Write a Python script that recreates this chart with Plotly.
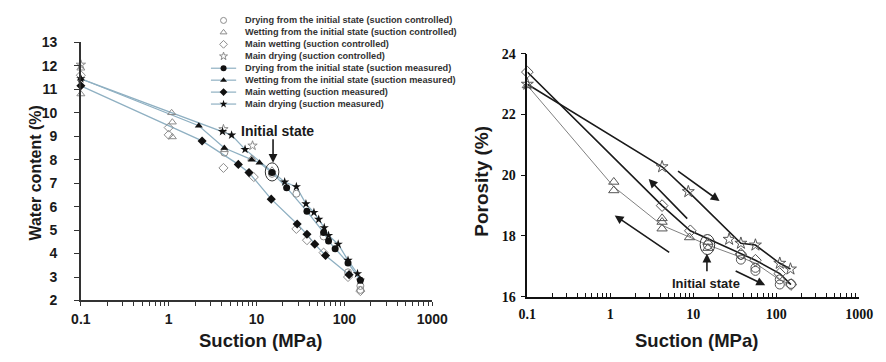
import plotly.graph_objects as go

W, H = 886, 362

# ---------------- Left panel: water content (%) vs suction (MPa) ----------------
# suction measured (filled markers, joined)
dry_init_meas_s = [15, 22, 37.5, 58, 66, 78.5, 110, 152]
dry_init_meas_w = [7.45, 6.81, 5.8, 4.9, 4.53, 4.2, 3.6, 2.86]
wet_init_meas_s = [15, 10.8, 8.8, 4.3, 2.2, 0.1]
wet_init_meas_w = [7.45, 7.87, 8.0, 8.5, 9.45, 11.45]
main_wet_meas_s = [113, 61, 46, 37.5, 29, 14.7, 8.2, 6.2, 2.4, 0.1]
main_wet_meas_w = [3.1, 3.92, 4.4, 4.82, 5.26, 6.32, 7.45, 7.8, 8.8, 11.15]
main_dry_meas_s = [0.1, 4.1, 5.2, 7.4, 20.9, 28.4, 36.5, 45, 51, 59, 66, 85, 110, 141, 152]
main_dry_meas_w = [11.45, 9.2, 9.05, 8.44, 7.05, 6.85, 6.12, 5.75, 5.46, 5.1, 4.77, 4.4, 3.71, 3.14, 2.86]
# suction controlled (open markers)
dry_init_ctrl_s = [15, 4.3, 28.4, 58, 110, 152, 152]
dry_init_ctrl_w = [7.4, 8.3, 6.55, 4.73, 3.2, 2.62, 2.45]
wet_init_ctrl_s = [0.1, 0.1, 1.08, 1.1, 1.1, 4.3, 8.8, 15]
wet_init_ctrl_w = [11.9, 10.8, 10.0, 9.6, 8.97, 8.42, 8.05, 7.55]
main_wet_ctrl_s = [0.1, 1.0, 1.0, 4.2, 9.3, 28.4, 37.5, 58, 110, 152]
main_wet_ctrl_w = [11.6, 9.37, 9.06, 7.65, 7.26, 5.05, 4.57, 4.04, 3.0, 2.4]
main_dry_ctrl_s = [0.1, 4.2, 9.0]
main_dry_ctrl_w = [12.05, 9.3, 8.6]

legend_labels = [
    "Drying from the initial state (suction controlled)",
    "Wetting from the initial state (suction controlled)",
    "Main wetting (suction controlled)",
    "Main drying (suction controlled)",
    "Drying from the initial state (suction measured)",
    "Wetting from the initial state (suction measured)",
    "Main wetting (suction measured)",
    "Main drying (suction measured)",
]

# ---------------- Right panel: porosity (%) vs suction (MPa) ----------------
por_main_wet_s = [0.1, 4.2, 9.2, 37.4, 56, 110, 150]
por_main_wet_p = [23.4, 19.0, 18.17, 17.4, 17.2, 16.76, 16.4]
por_wet_init_s = [15, 15, 9.0, 4.2, 4.2, 4.2, 1.1, 1.1, 0.1]
por_wet_init_p = [17.8, 17.6, 17.95, 18.58, 18.46, 18.24, 19.78, 19.5, 22.96]
por_dry_init_s = [15, 37.4, 37.4, 56, 56, 110, 110, 150]
por_dry_init_p = [17.7, 17.38, 17.22, 16.95, 16.85, 16.57, 16.4, 16.42]
por_main_dry_s = [0.1, 4.2, 8.7, 37.4, 56, 110, 148]
por_main_dry_p = [23.0, 20.28, 19.46, 17.76, 17.7, 17.1, 16.91]
por_main_dry_extra_s = [27]
por_main_dry_extra_p = [17.89]
por_init_path_s = [0.1, 1.1, 4.2, 9.0, 15, 37.4, 56, 110, 150]
por_init_path_p = [22.96, 19.62, 18.35, 17.95, 17.7, 17.3, 17.1, 16.55, 16.4]

x_ticks = [0.1, 1, 10, 100, 1000]
x_ticktext = ["0.1", "1", "10", "100", "1000"]
minor_vals = [m * 10 ** e for e in range(-1, 3) for m in range(2, 10)]
all_tickvals = x_ticks + minor_vals
all_ticktext = x_ticktext + [""] * len(minor_vals)

LINE_BLUE = "#8fb0c2"
OPEN_GRAY = "#8c8c8c"
SANS = "Liberation Sans, Arial, sans-serif"
SERIF = "Liberation Serif, Times New Roman, serif"

fig = go.Figure()

# left: measured (filled + line)
for s, w in [
    (dry_init_meas_s, dry_init_meas_w),
    (wet_init_meas_s, wet_init_meas_w),
    (main_wet_meas_s, main_wet_meas_w),
    (main_dry_meas_s, main_dry_meas_w),
]:
    fig.add_trace(go.Scatter(x=s, y=w, mode="lines", line=dict(color=LINE_BLUE, width=1.3),
                             xaxis="x", yaxis="y", showlegend=False, cliponaxis=False))
for s, w, sym in [
    (dry_init_ctrl_s, dry_init_ctrl_w, "circle-open"),
    (wet_init_ctrl_s, wet_init_ctrl_w, "triangle-up-open"),
    (main_wet_ctrl_s, main_wet_ctrl_w, "diamond-open"),
    (main_dry_ctrl_s, main_dry_ctrl_w, "star-open"),
]:
    fig.add_trace(go.Scatter(x=s, y=w, mode="markers",
                             marker=dict(symbol=sym, size=7, color=OPEN_GRAY, line=dict(width=1, color=OPEN_GRAY)),
                             xaxis="x", yaxis="y", showlegend=False, cliponaxis=False))
for s, w, sym in [
    (dry_init_meas_s, dry_init_meas_w, "circle"),
    (wet_init_meas_s, wet_init_meas_w, "triangle-up"),
    (main_wet_meas_s, main_wet_meas_w, "diamond"),
    (main_dry_meas_s, main_dry_meas_w, "star"),
]:
    fig.add_trace(go.Scatter(x=s, y=w, mode="markers",
                             marker=dict(symbol=sym, size=7, color="#111111"),
                             xaxis="x", yaxis="y", showlegend=False, cliponaxis=False))

# right panel lines
fig.add_trace(go.Scatter(x=por_init_path_s, y=por_init_path_p, mode="lines",
                         line=dict(color="#808080", width=1), xaxis="x2", yaxis="y2",
                         showlegend=False, cliponaxis=False))
fig.add_trace(go.Scatter(x=por_main_wet_s, y=por_main_wet_p, mode="lines",
                         line=dict(color="#1a1a1a", width=1.6), xaxis="x2", yaxis="y2",
                         showlegend=False, cliponaxis=False))
fig.add_trace(go.Scatter(x=por_main_dry_s, y=por_main_dry_p, mode="lines",
                         line=dict(color="#1a1a1a", width=1.6), xaxis="x2", yaxis="y2",
                         showlegend=False, cliponaxis=False))
for s, p, sym in [
    (por_main_wet_s, por_main_wet_p, "diamond-open"),
    (por_wet_init_s, por_wet_init_p, "triangle-up-open"),
    (por_dry_init_s, por_dry_init_p, "circle-open"),
    (por_main_dry_s, por_main_dry_p, "star-open"),
    (por_main_dry_extra_s, por_main_dry_extra_p, "star-open"),
]:
    fig.add_trace(go.Scatter(x=s, y=p, mode="markers",
                             marker=dict(symbol=sym, size=9, color="#555555", line=dict(width=1, color="#555555")),
                             xaxis="x2", yaxis="y2", showlegend=False, cliponaxis=False))

# legend (pixel overlay axes)
legend_rows = [13, 25.5, 38, 50.5, 63, 75.5, 88, 100.5]
legend_syms = ["circle-open", "triangle-up-open", "diamond-open", "star-open",
               "circle", "triangle-up", "diamond", "star"]
annotations = []
for i, (lab, sym, ry) in enumerate(zip(legend_labels, legend_syms, legend_rows)):
    if i >= 4:
        fig.add_trace(go.Scatter(x=[207, 233], y=[ry, ry], mode="lines",
                                 line=dict(color=LINE_BLUE, width=1.2),
                                 xaxis="x3", yaxis="y3", showlegend=False))
        mk = dict(symbol=sym, size=6, color="#111111")
    else:
        mk = dict(symbol=sym, size=6, color=OPEN_GRAY, line=dict(width=1, color=OPEN_GRAY))
    fig.add_trace(go.Scatter(x=[220], y=[ry], mode="markers", marker=mk,
                             xaxis="x3", yaxis="y3", showlegend=False))
    annotations.append(dict(x=240, y=ry, xref="x3", yref="y3", text=lab, showarrow=False,
                            xanchor="left", yanchor="middle",
                            font=dict(family=SANS, size=9.2, color="#333333", weight="bold")))

# axis titles
def title_ann(x, y, text, angle=0, size=18.5):
    return dict(x=x / W, y=1 - y / H, xref="paper", yref="paper", text=text, showarrow=False,
                textangle=angle, xanchor="center", yanchor="middle",
                font=dict(family=SANS, size=size, color="#1a1a1a", weight="bold"))

annotations += [
    title_ann(258, 348, "Suction (MPa)"),
    title_ann(26, 173, "Water content (%)", -90, 16),
    title_ann(707, 348, "Suction (MPa)"),
    title_ann(485, 181, "Porosity (%)", -90, 19),
]

# "Initial state" labels and arrows
annotations.append(dict(x=276 / W, y=1 - 129 / H, xref="paper", yref="paper", text="Initial state",
                        showarrow=False, xanchor="center", yanchor="middle",
                        font=dict(family=SANS, size=14, color="#1a1a1a", weight="bold")))
annotations.append(dict(x=717 / W, y=1 - 288 / H, xref="paper", yref="paper", text="Initial state",
                        showarrow=False, xanchor="center", yanchor="middle",
                        font=dict(family=SANS, size=13, color="#1a1a1a", weight="bold")))
arrows = [  # (head_x, head_y, tail_x, tail_y) in pixels
    (271, 162, 271, 137),
    (718, 257, 718, 276),
    (658, 179, 698, 220),
    (731, 202, 688, 171),
    (623, 217, 679, 255),
    (778, 290, 747, 275),
]
for hx, hy, tx, ty in arrows:
    annotations.append(dict(x=hx / W, y=1 - hy / H, xref="paper", yref="paper", ax=tx - hx, ay=ty - hy,
                            text="", showarrow=True, arrowhead=2, arrowsize=1.1, arrowwidth=1.6,
                            arrowcolor="#1a1a1a"))

shapes = [
    dict(type="circle", xref="paper", yref="paper", x0=263 / W, x1=277 / W,
         y0=1 - 181 / H, y1=1 - 162 / H, line=dict(color="#333333", width=1)),
    dict(type="circle", xref="paper", yref="paper", x0=711 / W, x1=726 / W,
         y0=1 - 258 / H, y1=1 - 237 / H, line=dict(color="#333333", width=1)),
]

common_x = dict(type="log", range=[-1, 3], tickmode="array", tickvals=all_tickvals, ticktext=all_ticktext,
                showgrid=False, zeroline=False, showline=True, linewidth=1.5, ticklen=4, tickwidth=1.2)

fig.update_layout(
    width=W, height=H, margin=dict(l=0, r=0, t=0, b=0), autosize=False,
    paper_bgcolor="white", plot_bgcolor="rgba(0,0,0,0)",
    xaxis=dict(**common_x, domain=[73 / W, 435 / W], anchor="y", linecolor="#333333",
               ticks="outside", tickcolor="#333333",
               tickfont=dict(family=SANS, size=14, color="#1a1a1a", weight="bold"), ticklabelstandoff=1),
    yaxis=dict(range=[2, 13], dtick=1, domain=[1 - 306 / H, 1 - 36 / H], anchor="x",
               showgrid=False, zeroline=False, showline=True, linewidth=1.5, linecolor="#333333",
               ticks="outside", ticklen=5, tickcolor="#333333", tickwidth=1.2,
               tickfont=dict(family=SANS, size=14, color="#1a1a1a", weight="bold"), ticklabelstandoff=14),
    xaxis2=dict(**common_x, domain=[533 / W, 875 / W], anchor="y2", linecolor="#111111",
                ticks="inside", tickcolor="#111111",
                tickfont=dict(family=SERIF, size=14, color="#111111", weight="bold"), ticklabelstandoff=4),
    yaxis2=dict(range=[16, 24], dtick=2, domain=[1 - 302 / H, 1 - 48 / H], anchor="x2",
                showgrid=False, zeroline=False, showline=True, linewidth=1.5, linecolor="#111111",
                ticks="outside", ticklen=5, tickcolor="#111111", tickwidth=1.2,
                tickfont=dict(family=SERIF, size=14, color="#111111", weight="bold"), ticklabelstandoff=2),
    xaxis3=dict(domain=[0, 1], range=[0, W], visible=False, anchor="y3", fixedrange=True),
    yaxis3=dict(domain=[0, 1], range=[H, 0], visible=False, anchor="x3", fixedrange=True),
    annotations=annotations, shapes=shapes, showlegend=False,
)

fig.write_html("out.html")
